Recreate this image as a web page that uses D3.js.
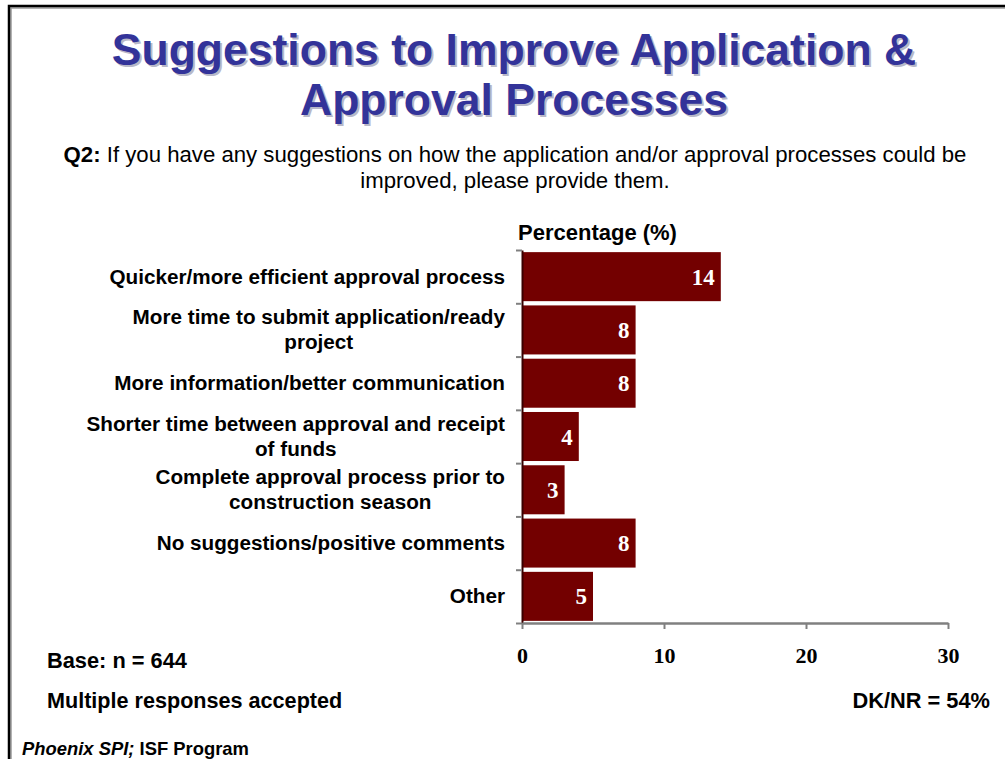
<!DOCTYPE html>
<html><head><meta charset="utf-8">
<script src="https://cdn.jsdelivr.net/npm/d3@7"></script>
<style>html,body{margin:0;padding:0;background:#fff;}svg{display:block;}</style>
</head><body>
<svg id="c" width="1005" height="759"></svg>
<script>
const categories = [
  ["Quicker/more efficient approval process"],
  ["More time to submit application/ready", "project"],
  ["More information/better communication"],
  ["Shorter time between approval and receipt", "of funds"],
  ["Complete approval process prior to", "construction season"],
  ["No suggestions/positive comments"],
  ["Other"]
];
const values = [14, 8, 8, 4, 3, 8, 5];
const xTicks = [0, 10, 20, 30];
const titleLines = ["Suggestions to Improve Application &", "Approval Processes"];
const subtitleLines = ["If you have any suggestions on how the application and/or approval processes could be", "improved, please provide them."];

const svg = d3.select("#c");
const W = 1005, H = 759;
svg.append("rect").attr("width", W).attr("height", H).attr("fill", "#fff");

// frame (with faint shadow)
svg.append("path").attr("d", `M11,${H} L11,8 L${W},8`).attr("fill", "none")
  .attr("stroke", "#999").attr("stroke-width", 1.5);
svg.append("path").attr("d", `M9,${H} L9,6 L${W},6`).attr("fill", "none")
  .attr("stroke", "#000").attr("stroke-width", 2.5);

const sans = "Arial, 'Liberation Sans', Helvetica, sans-serif";
const serif = "'Times New Roman', 'Liberation Serif', serif";

// title with shadow
titleLines.forEach((t, i) => {
  const y = 65 + i * 50;
  svg.append("text").attr("x", 516).attr("y", y + 2).attr("text-anchor", "middle")
    .attr("font-family", sans).attr("font-weight", "bold").attr("font-size", 44.5)
    .attr("fill", "#b8b8c8").text(t);
  svg.append("text").attr("x", 514).attr("y", y).attr("text-anchor", "middle")
    .attr("font-family", sans).attr("font-weight", "bold").attr("font-size", 44.5)
    .attr("fill", "#333399").text(t);
});

// subtitle
const subSize = 22.2;
const st1 = svg.append("text").attr("x", 515).attr("y", 162).attr("text-anchor", "middle")
  .attr("font-family", sans).attr("font-size", subSize).attr("fill", "#000");
st1.append("tspan").attr("font-weight", "bold").text("Q2: ");
st1.append("tspan").text(subtitleLines[0]);
svg.append("text").attr("x", 515).attr("y", 188).attr("text-anchor", "middle")
  .attr("font-family", sans).attr("font-size", subSize).attr("fill", "#000").text(subtitleLines[1]);

// scales
const x = d3.scaleLinear().domain([0, 30]).range([522, 948]);
const idx = d3.range(categories.length);
const y = d3.scaleBand().domain(idx).range([250, 623]).paddingInner(0.08).paddingOuter(0.04);
const yEdge = d3.scaleLinear().domain([0, categories.length]).range([250, 623]);

svg.append("text").attr("x", 518).attr("y", 240)
  .attr("font-family", sans).attr("font-weight", "bold").attr("font-size", 22).text("Percentage (%)");

// bars
svg.append("g").selectAll("rect").data(values).join("rect")
  .attr("x", x(0)).attr("y", (d, i) => y(i))
  .attr("width", d => x(d) - x(0)).attr("height", y.bandwidth())
  .attr("fill", "#730000");

// y axis (ticks at category boundaries)
const ya = svg.append("g").attr("transform", `translate(${x(0)},0)`)
  .call(d3.axisLeft(yEdge).tickValues(d3.range(categories.length + 1)).tickSize(6).tickSizeOuter(0).tickFormat(""));
ya.select(".domain").attr("stroke", "#3a0000").attr("stroke-width", 2);
ya.selectAll(".tick line").attr("stroke", "#808080").attr("stroke-width", 2);

// x axis
const xa = svg.append("g").attr("transform", `translate(0,623)`)
  .call(d3.axisBottom(x).tickValues(xTicks).tickSize(6).tickSizeOuter(0).tickPadding(18));
xa.select(".domain").attr("stroke", "#808080").attr("stroke-width", 2.5);
xa.selectAll(".tick line").attr("stroke", "#808080").attr("stroke-width", 2);
xa.selectAll(".tick text").attr("font-family", serif).attr("font-weight", "bold")
  .attr("font-size", 22).attr("fill", "#000");

// value labels
svg.append("g").selectAll("text").data(values).join("text")
  .attr("x", d => x(d) - 6).attr("y", (d, i) => y(i) + y.bandwidth() / 2 + 8)
  .attr("text-anchor", "end").attr("font-family", serif).attr("font-weight", "bold")
  .attr("font-size", 23).attr("fill", "#fff").text(d => d);

// category labels (centred block, right edge at 505)
const lab = svg.append("g");
categories.forEach((lines, i) => {
  const cy = y(i) + y.bandwidth() / 2;
  const lh = 25;
  const g = lab.append("g");
  const texts = lines.map((l, j) => g.append("text")
    .attr("y", cy + (j - (lines.length - 1) / 2) * lh + 7)
    .attr("font-family", sans).attr("font-weight", "bold").attr("font-size", 20.7)
    .attr("text-anchor", "middle").attr("fill", "#000").text(l));
  const wmax = d3.max(texts, t => t.node().getComputedTextLength());
  texts.forEach(t => t.attr("x", 505 - wmax / 2));
});

// footer
svg.append("text").attr("x", 47).attr("y", 668).attr("font-family", sans)
  .attr("font-weight", "bold").attr("font-size", 21.8).text("Base: n = 644");
svg.append("text").attr("x", 47).attr("y", 708).attr("font-family", sans)
  .attr("font-weight", "bold").attr("font-size", 21.6).text("Multiple responses accepted");
svg.append("text").attr("x", 990).attr("y", 708).attr("text-anchor", "end").attr("font-family", sans)
  .attr("font-weight", "bold").attr("font-size", 21.8).text("DK/NR = 54%");
const ft = svg.append("text").attr("x", 22).attr("y", 755).attr("font-family", sans)
  .attr("font-weight", "bold").attr("font-size", 18.4);
ft.append("tspan").attr("font-style", "italic").text("Phoenix SPI;");
ft.append("tspan").text(" ISF Program");
</script>
</body></html>
